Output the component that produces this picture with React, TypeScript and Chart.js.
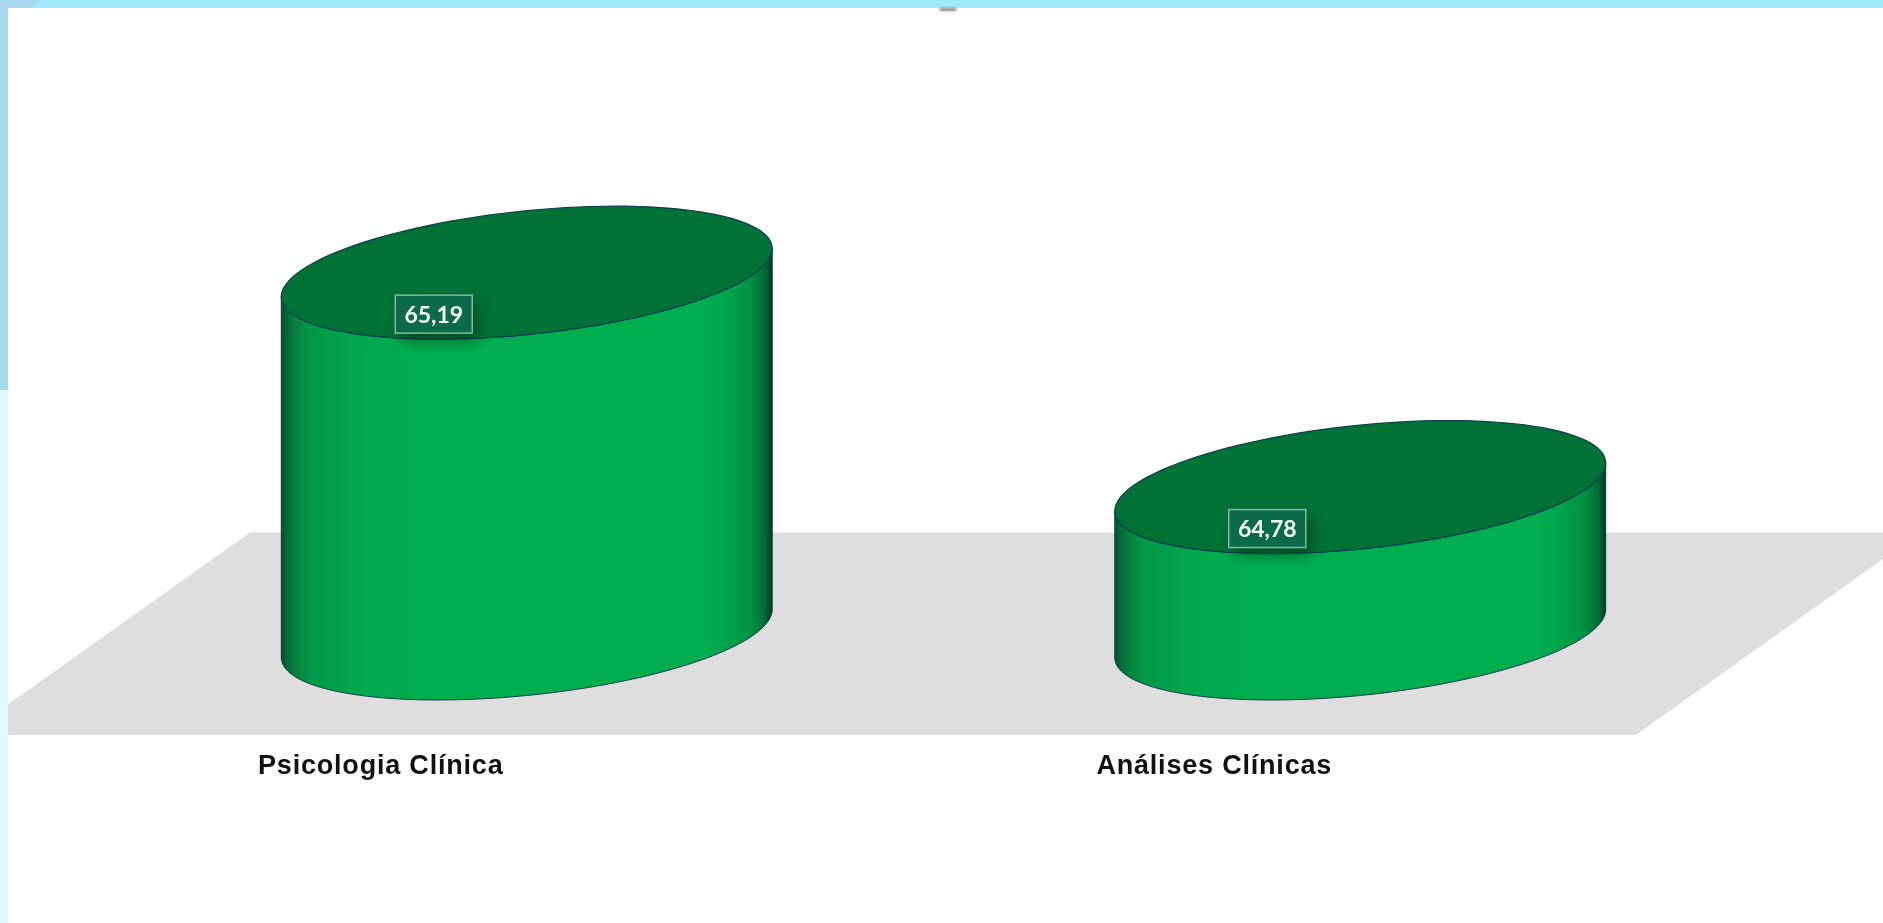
import React, { useEffect, useRef } from "react";
import { Chart, registerables } from "chart.js";

Chart.register(...registerables);

const categories = ["Psicologia Clínica", "Análises Clínicas"];
const seriesValues = [65.19, 64.78];
const valueLabels = ["65,19", "64,78"];
const axisMin = 64.5;
const axisMax = 65.5;

const sideStops: [number, string][] = [
  [0, "#03512D"],
  [0.012, "#056B38"],
  [0.03, "#06823F"],
  [0.06, "#019847"],
  [0.17, "#00A94D"],
  [0.3, "#00AD4F"],
  [0.86, "#00AD4F"],
  [0.9, "#00A54B"],
  [0.955, "#009244"],
  [0.985, "#006C36"],
  [1, "#003822"],
];

function traceArc(ctx: any, cx: number, cy: number, a: number, s: number, b: number, t0: number, t1: number, move: boolean) {
  const n = 120;
  for (let i = 0; i <= n; i++) {
    const t = t0 + ((t1 - t0) * i) / n;
    const x = cx + a * Math.cos(t);
    const y = cy + s * Math.cos(t) + b * Math.sin(t);
    if (i === 0 && move) ctx.moveTo(x, y);
    else ctx.lineTo(x, y);
  }
}

const cylinderPlugin = {
  id: "cylinder",
  beforeDraw(chart: any) {
    chart.ctx.letterSpacing = "0.8px";
  },
  beforeDatasetsDraw(chart: any) {
    const { ctx, chartArea } = chart;
    const base = chart.scales.y.getPixelForValue(axisMin);
    const back = base - 101;
    const front = base + 101.5;
    const depth = 0.71;
    ctx.save();
    ctx.fillStyle = "#DEDEDE";
    ctx.beginPath();
    ctx.moveTo(chartArea.left + 140, back);
    ctx.lineTo(chartArea.right + 143, back);
    ctx.lineTo(chartArea.right - 141, front);
    ctx.lineTo(chartArea.left + 140 - (front - back) / depth, front);
    ctx.closePath();
    ctx.fill();
    ctx.restore();
  },
  afterDatasetsDraw(chart: any) {
    const { ctx } = chart;
    ctx.letterSpacing = "0px";
    const meta = chart.getDatasetMeta(0);
    meta.data.forEach((bar: any, i: number) => {
      const a = bar.width / 2;
      const s = -0.098 * a;
      const b = 0.2525 * a;
      const cx = bar.x;
      const topC = bar.y;
      const botC = bar.base;

      ctx.save();
      const grad = ctx.createLinearGradient(cx - a, 0, cx + a, 0);
      sideStops.forEach(([p, c]) => grad.addColorStop(p, c));
      ctx.beginPath();
      traceArc(ctx, cx, botC, a, s, b, 0, Math.PI, true);
      ctx.lineTo(cx - a, topC - s);
      traceArc(ctx, cx, topC, a, s, b, Math.PI, 0, false);
      ctx.closePath();
      ctx.fillStyle = grad;
      ctx.fill();
      ctx.strokeStyle = "#0E3D4C";
      ctx.lineWidth = 1;
      ctx.stroke();

      ctx.beginPath();
      traceArc(ctx, cx, topC, a, s, b, 0, Math.PI * 2, true);
      ctx.closePath();
      ctx.fillStyle = "#007236";
      ctx.fill();
      ctx.lineWidth = 1.2;
      ctx.stroke();

      const w = 77;
      const h = 38;
      const bx = cx - 93 - w / 2;
      const by = topC + 41.5 - h / 2;
      ctx.save();
      ctx.shadowColor = "rgba(0,40,20,0.55)";
      ctx.shadowBlur = 16;
      ctx.shadowOffsetX = 5;
      ctx.shadowOffsetY = 7;
      ctx.fillStyle = "#0A6A49";
      ctx.fillRect(bx, by, w, h);
      ctx.restore();
      ctx.strokeStyle = "#86B8A2";
      ctx.lineWidth = 1.5;
      ctx.strokeRect(bx, by, w, h);
      ctx.fillStyle = "#F4FBF7";
      ctx.font = 'bold 23px Lato, "Open Sans", sans-serif';
      ctx.textAlign = "center";
      ctx.textBaseline = "middle";
      ctx.fillText(valueLabels[i], bx + w / 2, by + h / 2 + 1);
      ctx.restore();
    });
  },
};

const band: React.CSSProperties = { position: "absolute" };

export default function App() {
  const ref = useRef<HTMLCanvasElement | null>(null);

  useEffect(() => {
    document.body.style.margin = "0";
    document.body.style.overflow = "hidden";
    const chart = new Chart(ref.current as HTMLCanvasElement, {
      type: "bar",
      data: {
        labels: categories,
        datasets: [
          {
            data: seriesValues,
            base: axisMin,
            backgroundColor: "rgba(0,0,0,0)",
            borderWidth: 0,
            barPercentage: 0.589,
            categoryPercentage: 1,
          },
        ],
      },
      options: {
        animation: false,
        responsive: false,
        layout: { padding: { left: 110, right: 106, top: 110.5, bottom: 0 } },
        plugins: { legend: { display: false }, tooltip: { enabled: false } },
        scales: {
          y: { display: false, min: axisMin, max: axisMax },
          x: {
            afterFit: (scale: any) => {
              scale.height = 289.5;
            },
            border: { display: false },
            grid: { display: false, drawTicks: false },
            ticks: {
              autoSkip: false,
              maxRotation: 0,
              padding: 117,
              labelOffset: -146,
              color: "#111111",
              font: { family: '"Liberation Sans", Arial, sans-serif', size: 27, weight: "bold" },
            },
          },
        },
      },
      plugins: [cylinderPlugin],
    } as any);
    return () => chart.destroy();
  }, []);

  return (
    <div style={{ position: "absolute", left: 0, top: 0, width: 1883, height: 923, background: "#FFFFFF", overflow: "hidden" }}>
      <canvas ref={ref} width={1883} height={923} style={{ position: "absolute", left: 0, top: 0, width: 1883, height: 923 }} />
      <div style={{ ...band, left: 0, top: 0, width: 1883, height: 8, background: "#A0E9FF" }} />
      <div style={{ ...band, left: 0, top: 0, width: 8, height: 390, background: "#A6D8F0" }} />
      <div style={{ ...band, left: 0, top: 390, width: 8, height: 533, background: "#E0FAFF" }} />
      <div style={{ ...band, left: 0, top: 0, width: 40, height: 8, background: "#A6D8F0", borderBottomRightRadius: "18px 8px" }} />
      <div style={{ ...band, left: 939, top: 8, width: 18, height: 3, background: "#8A8A8A", borderRadius: "0 0 9px 9px", filter: "blur(0.8px)" }} />
    </div>
  );
}
